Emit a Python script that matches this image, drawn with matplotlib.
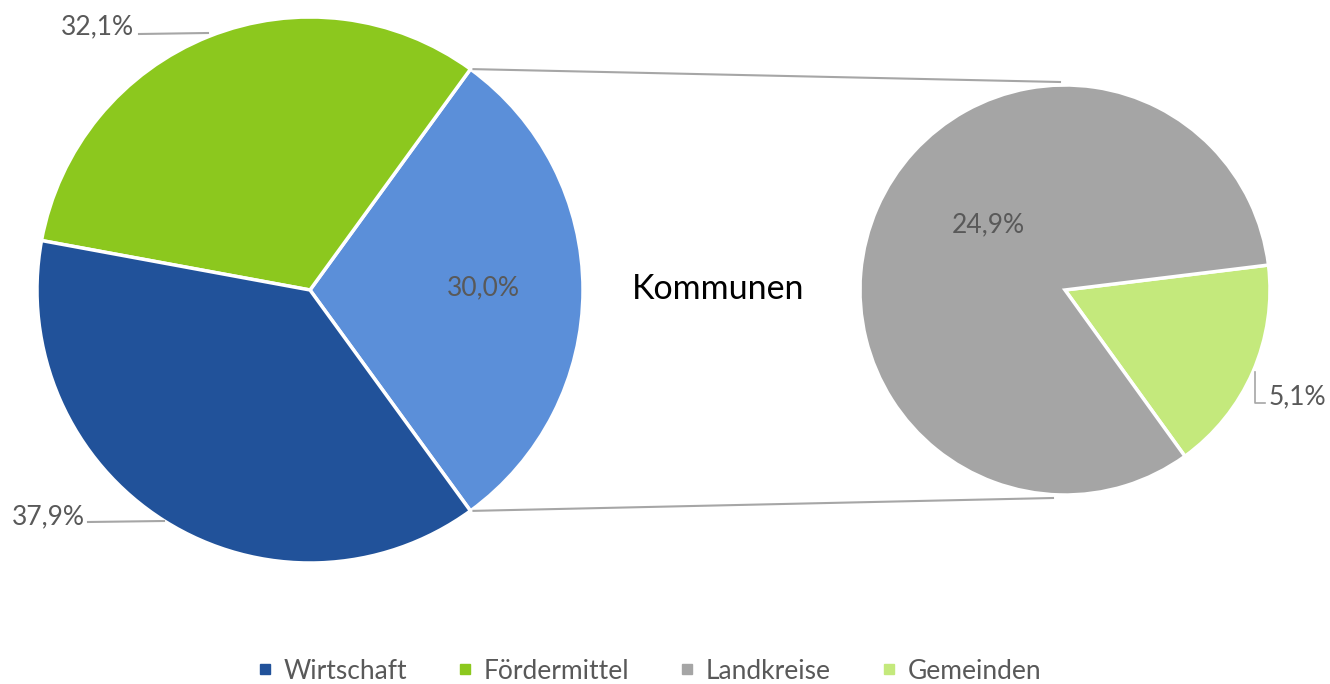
import numpy as np
import matplotlib
matplotlib.use("Agg")
import matplotlib.pyplot as plt
from matplotlib.lines import Line2D

plt.rcParams["font.family"] = ["Lato", "DejaVu Sans"]

# ── Data ──
main_labels = ["Kommunen", "Fördermittel", "Wirtschaft"]
main_values = [30.0, 32.1, 37.9]
main_colors = ["#5B8FD9", "#8CC81E", "#21529A"]

sub_labels = ["Gemeinden", "Landkreise"]
sub_values = [5.1, 24.9]
sub_colors = ["#C4E97C", "#A5A5A5"]

legend_labels = ["Wirtschaft", "Fördermittel", "Landkreise", "Gemeinden"]
legend_colors = ["#21529A", "#8CC81E", "#A5A5A5", "#C4E97C"]

TXT = "#595959"
LINE = "#A6A6A6"
W, H = 1330, 684

fig = plt.figure(figsize=(W / 100, H / 100), dpi=100)
ax = fig.add_axes([0, 0, 1, 1])

# ── Main pie ──
c1, r1 = (310, 394), 273
start1 = -main_values[0] * 3.6 / 2
ax.pie(main_values, colors=main_colors, center=c1, radius=r1, startangle=start1,
       counterclock=True, wedgeprops=dict(edgecolor="white", linewidth=2.5),
       frame=True)

# ── Secondary pie ──
c2, r2 = (1065, 394), 205
start2 = -54.2
ax.pie(sub_values, colors=sub_colors, center=c2, radius=r2, startangle=start2,
       counterclock=True, wedgeprops=dict(edgecolor="white", linewidth=2.5),
       frame=True)
ax.set_xlim(0, W); ax.set_ylim(0, H)
ax.set_aspect("equal"); ax.axis("off")

# ── Connector lines ──
half = np.radians(main_values[0] * 3.6 / 2)
for sgn in (1, -1):
    x0 = c1[0] + r1 * np.cos(half) + 3
    y0 = c1[1] + sgn * r1 * np.sin(half)
    x1 = c2[0] - 5 - (sgn < 0) * 7
    y1 = c2[1] + sgn * (r2 + 3)
    ax.plot([x0, x1], [y0, y1], color=LINE, lw=1.5)

ax.text(718, 395, "Kommunen", fontsize=24.5, color="black", ha="center", va="center")

# ── Data labels ──
fs = 19
ax.text(483, 396, "30,0%", fontsize=fs, color=TXT, ha="center", va="center")
ax.text(988, 459, "24,9%", fontsize=fs, color=TXT, ha="center", va="center")

ax.text(134, 657, "32,1%", fontsize=fs, color=TXT, ha="right", va="center")
ax.plot([139, 208], [650, 651], color=LINE, lw=1.5)

ax.text(85, 167, "37,9%", fontsize=fs, color=TXT, ha="right", va="center")
ax.plot([88, 164], [162, 163], color=LINE, lw=1.5)

ax.text(1269, 287, "5,1%", fontsize=fs, color=TXT, ha="left", va="center")
ax.plot([1255, 1255, 1265], [312, 281, 281], color=LINE, lw=1.2)

# ── Legend ──
handles = [Line2D([], [], marker="s", linestyle="none", markersize=7,
                  markerfacecolor=c, markeredgecolor=c) for c in legend_colors]
leg = fig.legend(handles, legend_labels, loc="center", bbox_to_anchor=(0.489, 0.019),
                 ncol=4, frameon=False, fontsize=19, handlelength=0.4,
                 handletextpad=0.5, columnspacing=2.0, labelcolor=TXT,
                 borderpad=0, borderaxespad=0)

fig.savefig("out.png", dpi=100)
